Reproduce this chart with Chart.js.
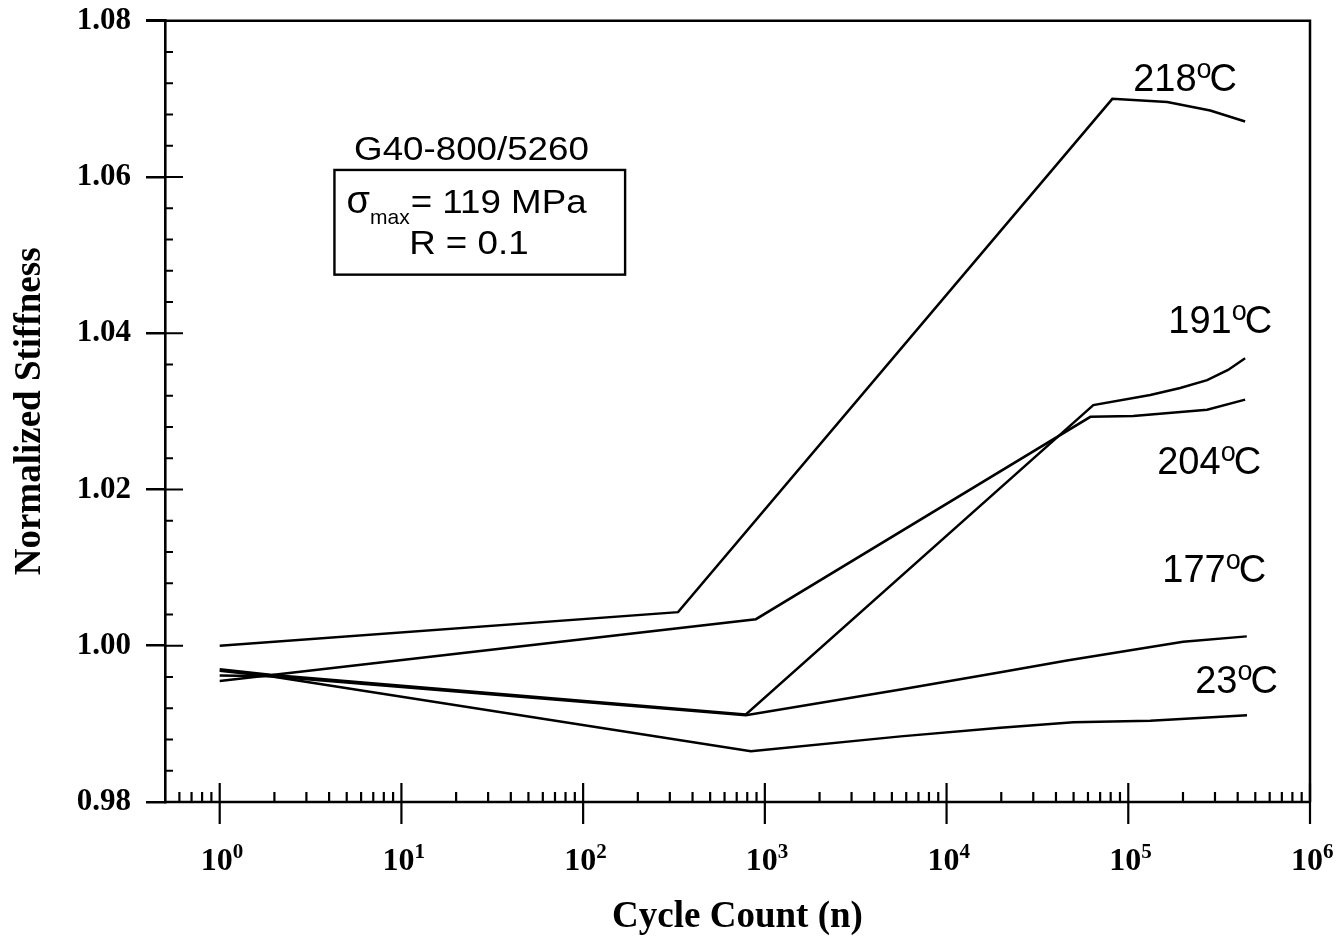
<!DOCTYPE html>
<html>
<head>
<meta charset="utf-8">
<script src="https://cdn.jsdelivr.net/npm/chart.js@4.4.1/dist/chart.umd.min.js"></script>
<style>
  html, body { margin: 0; padding: 0; background: #fff; }
  #wrap { width: 1339px; height: 947px; }
</style>
</head>
<body>
<div id="wrap"><canvas id="chart" width="1339" height="947"></canvas></div>
<script>
// Cycle counts (n) and normalized stiffness
const cycles218 = [1, 333, 81700, 163800, 282400, 439500];
const stiff218  = [1.0000, 1.0043, 1.0700, 1.0696, 1.0685, 1.0671];

const cycles204 = [1, 893, 61850, 106500, 271600, 439500];
const stiff204  = [0.9955, 1.0034, 1.0293, 1.0294, 1.0302, 1.0315];

const cycles191 = [1, 1.9, 786, 64200, 132100, 193000, 271600, 354000, 439500];
const stiff191  = [0.9970, 0.9963, 0.9912, 1.0308, 1.0321, 1.0330, 1.0340, 1.0353, 1.0368];

const cycles177 = [1, 1.9, 786, 5590, 19800, 46000, 200400, 449000];
const stiff177  = [0.9962, 0.9961, 0.9911, 0.9944, 0.9966, 0.9981, 1.0005, 1.0012];

const cycles23  = [1, 1.9, 838, 5590, 19800, 49900, 132100, 450000];
const stiff23   = [0.9968, 0.9961, 0.9865, 0.9884, 0.9895, 0.9902, 0.9904, 0.9911];

// curve labels: text, anchor cycle (left edge), anchor stiffness (baseline)
const tempLabels = ['218', '191', '204', '177', '23'];
const tempLabelN = [106400, 166000, 144300, 153800, 233500];
const tempLabelV = [1.0710, 1.0400, 1.0220, 1.0082, 0.9940];

const decades = [0, 1, 2, 3, 4, 5, 6];

const SERIF = '"Liberation Serif", "Times New Roman", serif';
const SANS = '"Liberation Sans", Arial, sans-serif';

function toPoints(xs, ys) { return xs.map((n, i) => ({ x: n, y: ys[i] })); }

const series = [
  { label: '218°C', data: toPoints(cycles218, stiff218) },
  { label: '204°C', data: toPoints(cycles204, stiff204) },
  { label: '191°C', data: toPoints(cycles191, stiff191) },
  { label: '177°C', data: toPoints(cycles177, stiff177) },
  { label: '23°C', data: toPoints(cycles23, stiff23) },
];

function drawText(ctx, text, x, y, font, align, sx) {
  ctx.save();
  ctx.font = font;
  ctx.textAlign = align || 'left';
  ctx.textBaseline = 'alphabetic';
  ctx.translate(x, y);
  ctx.scale(sx || 1, 1);
  ctx.fillText(text, 0, 0);
  ctx.restore();
}

const decorations = {
  id: 'decorations',
  afterDraw(chart) {
    const { ctx, chartArea: a, scales: { x, y } } = chart;
    ctx.save();
    ctx.strokeStyle = '#000';
    ctx.fillStyle = '#000';
    ctx.lineCap = 'butt';

    // frame: top, right, bottom
    ctx.lineWidth = 2.5;
    ctx.beginPath();
    ctx.moveTo(a.left - 19, a.top);
    ctx.lineTo(a.right, a.top);
    ctx.lineTo(a.right, a.bottom);
    ctx.moveTo(a.left - 1, a.bottom);
    ctx.lineTo(a.right, a.bottom);
    ctx.stroke();

    // y ticks pointing into the plot
    ctx.lineWidth = 2.2;
    ctx.beginPath();
    for (let i = 1; i < 25; i++) {
      const py = y.getPixelForValue(0.98 + i * 0.004);
      const len = i % 5 === 0 ? 18 : 8;
      ctx.moveTo(a.left, py);
      ctx.lineTo(a.left + len, py);
    }
    ctx.stroke();

    // x ticks: decades cross the axis, minors point up
    ctx.beginPath();
    decades.forEach(d => {
      const px = x.getPixelForValue(Math.pow(10, d));
      ctx.moveTo(px, a.bottom - 19);
      ctx.lineTo(px, a.bottom + 22);
    });
    for (let d = -1; d <= 5; d++) {
      for (let k = 2; k <= 9; k++) {
        const v = k * Math.pow(10, d);
        if (v <= x.min || v >= x.max) continue;
        const px = x.getPixelForValue(v);
        ctx.moveTo(px, a.bottom - 10);
        ctx.lineTo(px, a.bottom);
      }
    }
    ctx.stroke();

    // x tick labels 10^d
    decades.forEach(d => {
      const px = x.getPixelForValue(Math.pow(10, d)) - 3;
      ctx.font = 'bold 32px ' + SERIF;
      const w = ctx.measureText('10').width;
      drawText(ctx, '10', px, a.bottom + 68, 'bold 32px ' + SERIF, 'center');
      drawText(ctx, String(d), px + w / 2, a.bottom + 56, 'bold 21px ' + SERIF, 'left');
    });

    // curve labels with raised 'o' for degrees
    tempLabels.forEach((t, i) => {
      let px = x.getPixelForValue(tempLabelN[i]);
      const py = y.getPixelForValue(tempLabelV[i]);
      ctx.font = '38px ' + SANS;
      drawText(ctx, t, px, py, '38px ' + SANS);
      px += ctx.measureText(t).width;
      ctx.font = '27px ' + SANS;
      drawText(ctx, 'o', px, py - 13, '27px ' + SANS);
      px += ctx.measureText('o').width - 2;
      drawText(ctx, 'C', px, py, '38px ' + SANS);
    });

    // material / loading annotation
    const sx = 1.08;
    const f = '34px ' + SANS;
    drawText(ctx, 'G40-800/5260', x.getPixelForValue(24.3), y.getPixelForValue(1.0622), f, 'center', sx);
    const bx0 = x.getPixelForValue(4.28), bx1 = x.getPixelForValue(170.2);
    const by0 = y.getPixelForValue(1.0609), by1 = y.getPixelForValue(1.0475);
    ctx.lineWidth = 2.4;
    ctx.strokeRect(bx0, by0, bx1 - bx0, by1 - by0);
    let sxp = x.getPixelForValue(4.99);
    const sy = y.getPixelForValue(1.0554);
    drawText(ctx, 'σ', sxp, sy, '38px ' + SANS);
    ctx.font = '38px ' + SANS;
    sxp += ctx.measureText('σ').width;
    drawText(ctx, 'max', sxp, sy + 11, '21px ' + SANS);
    ctx.font = '21px ' + SANS;
    sxp += ctx.measureText('max').width + 1;
    drawText(ctx, '= 119 MPa', sxp, sy, f, 'left', sx);
    drawText(ctx, 'R = 0.1', x.getPixelForValue(23.5), y.getPixelForValue(1.0502), f, 'center', sx);

    ctx.restore();
  }
};

new Chart(document.getElementById('chart'), {
  type: 'scatter',
  data: {
    datasets: series.map(s => ({
      label: s.label,
      data: s.data,
      showLine: true,
      borderColor: '#000',
      backgroundColor: '#000',
      borderWidth: 2.5,
      pointRadius: 0,
      tension: 0,
      fill: false,
    })),
  },
  options: {
    responsive: false,
    animation: false,
    layout: { padding: { top: 0, right: 29, left: 0, bottom: 0 } },
    plugins: { legend: { display: false }, tooltip: { enabled: false } },
    scales: {
      x: {
        type: 'logarithmic',
        min: 0.5,
        max: 1e6,
        grid: { display: false },
        border: { display: false },
        ticks: { display: false },
        title: {
          display: true,
          text: 'Cycle Count (n)',
          color: '#000',
          font: { family: SERIF, size: 37, weight: 'bold' },
          padding: { top: 0, bottom: 7 },
        },
        afterFit: s => { s.height = 145; },
      },
      y: {
        min: 0.98,
        max: 1.08,
        ticks: {
          stepSize: 0.02,
          callback: v => v.toFixed(2),
          color: '#000',
          padding: 15,
          // small lineHeight keeps the top label from pushing the plot down
          font: { family: SERIF, size: 31, weight: 'bold', lineHeight: 0.37 },
        },
        grid: { drawOnChartArea: false, drawTicks: true, tickLength: 19, color: '#000', lineWidth: 2.5 },
        border: { display: true, color: '#000', width: 2.6 },
        title: {
          display: true,
          text: 'Normalized Stiffness',
          color: '#000',
          font: { family: SERIF, size: 37, weight: 'bold' },
          padding: { top: 8, bottom: 0 },
        },
        afterFit: s => { s.width = 165; },
      },
    },
  },
  plugins: [decorations],
});
</script>
</body>
</html>
